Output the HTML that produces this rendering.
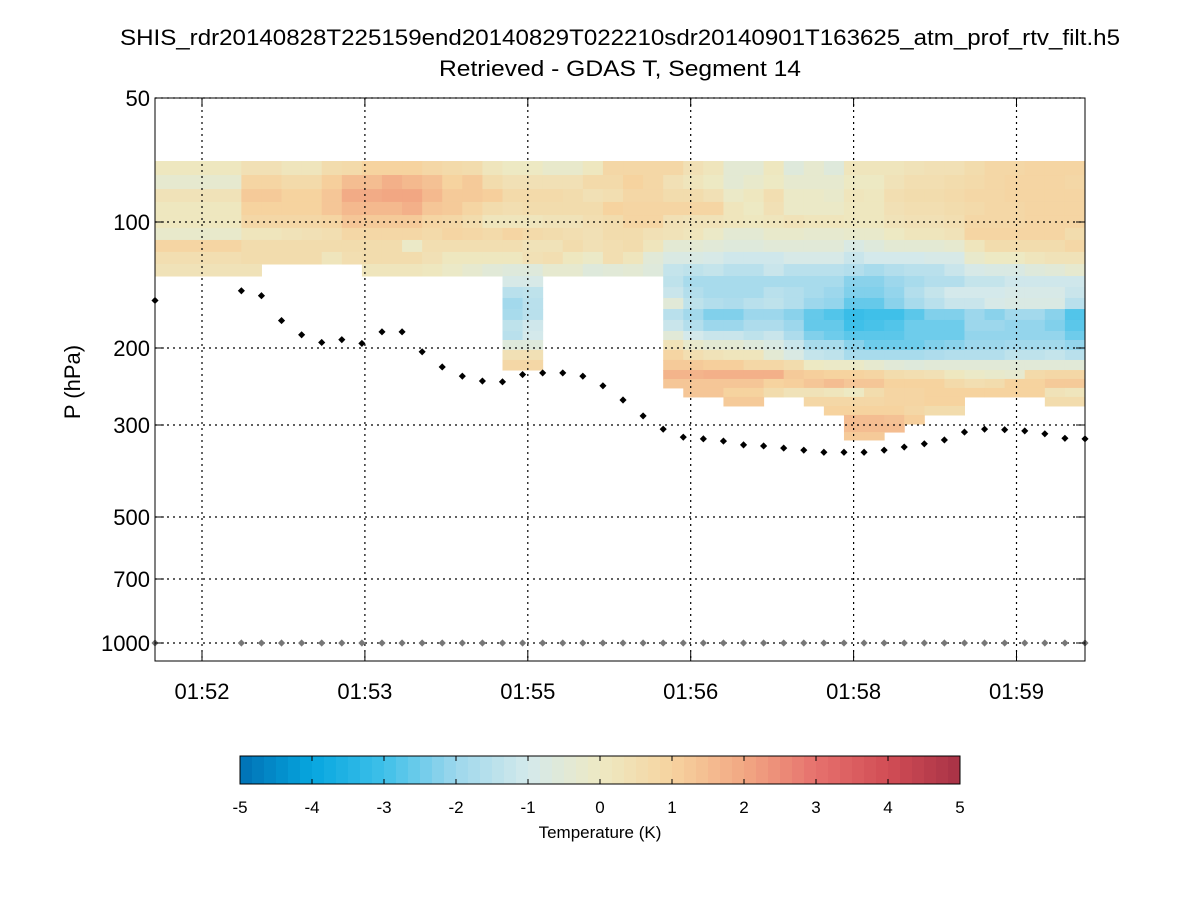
<!DOCTYPE html>
<html><head><meta charset="utf-8"><style>
body{margin:0;background:#fff;width:1200px;height:900px;overflow:hidden}
svg text{font-family:"Liberation Sans",sans-serif;fill:#000}
</style></head><body>
<svg id="chart" width="1200" height="900" xmlns="http://www.w3.org/2000/svg">
<rect width="1200" height="900" fill="#fff"/>
<text x="620" y="45" font-size="22" text-anchor="middle" textLength="1000" lengthAdjust="spacingAndGlyphs">SHIS_rdr20140828T225159end20140829T022210sdr20140901T163625_atm_prof_rtv_filt.h5</text>
<text x="620" y="76" font-size="22" text-anchor="middle" textLength="362" lengthAdjust="spacingAndGlyphs">Retrieved - GDAS T, Segment 14</text>
<text x="80" y="382" font-size="22" text-anchor="middle" transform="rotate(-90 80 382)">P (hPa)</text>
<g id="heat"></g><g id="grid"></g><g id="marks"></g><g id="axes"></g><g id="cbar"></g>
</svg>
<script>
const NS="http://www.w3.org/2000/svg";
// ---- data ----
const colEdges=[0,4.3,5.3,6.3,7.3,8.3,9.3,10.3,11.3,12.3,13.3,14.3,15.3,16.3,17.3,18.3,19.3,20.3,21.3,22.3,23.3,24.3,25.3,26.3,27.3,28.3,29.3,30.3,31.3,32.3,33.3,34.3,35.3,36.3,37.3,38.3,39.3,40.3,41.3,42.3,43.3,44.3,45.3,46.3];
const levelEdges=[71.1,76.9,83.2,89.4,96.2,103.3,110.4,117.9,126,134.6,143,151.9,161.4,171.4,182.1,191.4,202,213,224.6,235.4,246.8,258.8,271.4,284.6,298.4,312,326];
const tempRows=[
"0.1 0.4 0.4 0.2 0.2 0.6 0.7 1.0 1.0 1.0 0.8 0.7 0.6 0.2 0.0 0.0 -0.2 -0.2 0.1 0.8 0.8 0.8 0.8 0.4 0.2 -0.4 -0.4 0.1 -0.6 -0.3 -0.6 0.2 0.2 0.2 0.3 0.4 0.4 0.6 0.8 0.8 0.9 0.9 0.9",
"-0.3 0.9 0.9 0.7 0.7 1.1 1.5 1.5 1.8 1.6 1.4 1.0 1.2 0.6 0.4 0.4 0.4 0.4 0.7 0.7 1.0 0.8 0.4 0.2 0.0 -0.4 -0.2 0.0 -0.3 -0.3 -0.3 0.0 0.0 0.3 0.5 0.5 0.6 0.7 0.8 0.9 0.9 0.9 0.8",
"0.3 1.2 1.2 1.0 1.0 1.3 1.9 1.9 2.0 2.0 1.6 1.2 1.2 1.1 0.7 0.7 0.7 0.6 0.4 0.5 0.8 0.8 0.6 0.6 0.4 -0.1 0.1 0.5 -0.1 -0.1 -0.2 0.2 0.1 0.5 0.6 0.6 0.7 0.8 0.8 0.9 0.9 0.9 0.9",
"0.1 1.0 1.0 1.0 1.0 1.3 1.6 1.6 1.6 1.8 1.3 1.2 0.9 0.6 0.5 0.6 0.6 0.6 0.6 1.0 0.9 0.9 0.9 0.9 0.9 0.2 0.0 0.4 -0.1 -0.1 -0.1 0.1 0.1 0.4 0.5 0.5 0.6 0.7 0.8 0.8 0.9 0.9 0.9",
"0.1 0.8 0.8 0.8 0.8 0.9 1.3 1.2 1.2 1.2 0.9 0.8 0.6 0.2 0.2 0.2 0.3 0.3 0.5 0.6 0.9 0.9 0.4 0.3 0.3 0.2 0.1 0.2 0.3 0.2 0.2 0.1 0.1 0.3 0.4 0.4 0.5 0.8 0.8 0.8 0.9 0.9 0.9",
"-0.2 0.2 0.2 0.3 0.4 0.5 0.8 0.8 0.8 0.8 0.7 0.9 0.8 0.7 0.9 0.7 0.6 0.5 0.4 0.6 0.6 0.4 0.3 0.2 -0.1 -0.4 -0.4 -0.2 -0.2 -0.3 -0.3 -0.2 -0.2 0.0 0.2 0.2 0.3 0.9 0.9 0.9 0.9 0.9 0.6",
"0.9 0.6 0.6 0.6 0.6 0.6 0.6 0.6 0.6 -0.1 0.5 0.5 0.5 0.5 0.5 0.3 0.3 0.6 0.4 0.5 0.6 0.2 -0.4 -0.4 -0.5 -0.6 -0.6 -0.5 -0.5 -0.5 -0.5 -0.8 -0.6 -0.4 -0.4 -0.4 -0.3 0.2 0.6 0.6 0.6 0.6 0.8",
"0.5 0.6 0.6 0.6 0.6 0.2 0.5 0.6 0.6 0.6 0.4 0.1 0.1 0.1 0.1 0.4 0.5 0.1 -0.1 0.5 0.2 -0.5 -0.8 -0.8 -0.9 -1.1 -1.1 -1.1 -0.9 -0.9 -0.9 -1.2 -1.0 -1.0 -1.0 -0.9 -0.9 -0.2 0.0 0.0 0.2 0.3 0.3",
"0.3 0.3 n n n n n 0.2 0.2 0.2 0.1 -0.1 -0.3 -0.5 -0.6 -0.6 -0.3 -0.3 -0.6 -0.5 -0.4 -0.6 -1.3 -1.4 -1.3 -1.5 -1.5 -1.2 -1.5 -1.5 -1.5 -1.6 -1.8 -1.6 -1.5 -1.5 -1.2 -0.9 -0.8 -0.8 -0.6 -0.5 -0.3",
"n n n n n n n n n n n n n n -0.9 -0.9 n n n n n n -1.4 -1.8 -1.8 -1.8 -1.8 -1.8 -1.8 -1.8 -1.8 -2.2 -2.2 -2.0 -1.8 -1.6 -1.6 -1.3 -1.3 -1.1 -1.1 -1.1 -1.1",
"n n n n n n n n n n n n n n -1.5 -1.4 n n n n n n -1.2 -1.6 -1.8 -1.8 -1.8 -1.5 -1.6 -1.8 -2.0 -2.3 -2.3 -2.1 -1.6 -1.3 -1.0 -1.0 -1.0 -0.9 -0.9 -0.9 -1.2",
"n n n n n n n n n n n n n n -1.9 -1.5 n n n n n n -0.5 -1.4 -1.6 -1.7 -1.5 -1.4 -1.6 -2.0 -2.1 -2.6 -2.6 -2.2 -1.8 -1.5 -1.2 -1.2 -0.9 -0.8 -0.8 -0.8 -1.5",
"n n n n n n n n n n n n n n -1.8 -1.5 n n n n n n -1.5 -1.9 -2.3 -2.3 -2.0 -2.0 -2.2 -2.6 -2.8 -3.1 -3.0 -3.0 -2.7 -2.3 -2.3 -2.0 -2.2 -1.9 -1.9 -2.2 -2.8",
"n n n n n n n n n n n n n n -1.4 -1.1 n n n n n n -1.2 -1.6 -2.0 -2.0 -1.7 -1.7 -2.0 -2.6 -2.6 -3.0 -2.9 -2.8 -2.5 -2.5 -2.5 -2.0 -2.0 -2.1 -2.1 -2.3 -2.7",
"n n n n n n n n n n n n n n -1.5 -1.0 n n n n n n -0.5 -1.0 -1.2 -1.2 -1.4 -1.2 -1.7 -2.3 -2.5 -2.7 -2.7 -2.7 -2.5 -2.5 -2.5 -2.1 -2.1 -2.1 -2.1 -2.1 -2.5",
"n n n n n n n n n n n n n n -0.6 -0.6 n n n n n n 0.3 -0.2 -0.4 -0.4 -0.6 -0.8 -1.2 -1.8 -1.8 -2.2 -2.5 -2.5 -2.5 -2.3 -2.2 -2.0 -2.0 -1.9 -1.9 -1.9 -2.1",
"n n n n n n n n n n n n n n 0.4 0.4 n n n n n n 0.9 0.5 0.3 0.2 0.2 -0.4 -0.8 -1.3 -1.4 -1.8 -1.8 -1.8 -1.8 -1.7 -1.6 -1.6 -1.6 -1.4 -1.4 -1.3 -1.5",
"n n n n n n n n n n n n n n 0.8 0.8 n n n n n n 1.2 1.2 1.1 1.1 0.8 0.8 0.6 0.0 -0.1 -0.1 -0.3 -0.5 -0.6 -0.5 -0.5 -0.5 -0.5 -0.5 -0.5 -0.5 -0.5",
"n n n n n n n n n n n n n n n n n n n n n n 1.7 1.7 1.8 1.8 1.8 1.8 1.2 1.1 1.0 1.0 0.9 0.6 0.5 0.4 0.1 -0.1 -0.2 -0.3 0.7 0.8 0.8",
"n n n n n n n n n n n n n n n n n n n n n n 1.3 1.3 1.3 1.3 1.3 1.0 1.1 1.3 1.5 1.3 1.3 1.0 1.0 1.0 0.7 0.5 0.6 1.0 1.0 1.2 1.2",
"n n n n n n n n n n n n n n n n n n n n n n n 1.3 1.3 1.0 1.0 0.6 0.3 0.3 0.2 0.0 0.6 0.9 0.9 1.0 1.0 1.0 1.0 1.0 1.0 0.3 0.2",
"n n n n n n n n n n n n n n n n n n n n n n n n n 1.2 1.2 n n 0.8 0.8 0.8 0.8 0.9 0.9 1.0 1.0 n n n n 0.6 0.6",
"n n n n n n n n n n n n n n n n n n n n n n n n n n n n n n 1.0 1.0 1.0 1.0 0.8 0.6 0.6 n n n n n n",
"n n n n n n n n n n n n n n n n n n n n n n n n n n n n n n n 1.5 1.5 1.4 1.1 n n n n n n n n",
"n n n n n n n n n n n n n n n n n n n n n n n n n n n n n n n 1.5 1.5 1.5 n n n n n n n n n",
"n n n n n n n n n n n n n n n n n n n n n n n n n n n n n n n 1.2 1.2 n n n n n n n n n n"
];
const flightP=[154,146,150,172,186,194,191,195,183,183,204,221,232,238,239,230,228,228,232,244,263,286,307,321,324,328,335,337,341,345,349,349,349,345,339,333,326,312,307,308,310,315,323,324];
const surfaceP=1000;
const yTicks=[50,100,200,300,500,700,1000];
const xTickPos=[2.34,10.45,18.56,26.67,34.78,42.89];
const xTickLabels=["01:52","01:53","01:55","01:56","01:58","01:59"];
const cbTicks=[-5,-4,-3,-2,-1,0,1,2,3,4,5];
const cmap=['#0071b4','#06a6df','#3fc0e9','#9dd7ec','#d4e9eb','#ede9c3','#f6d39f','#f2a783','#e6716d','#d14d55','#a83246'];
// ---- scales ----
const PL=155,PR=1085,PT=98,PB=661;
const yTickPx=[98,222,348,425,517,579,643];
function y(p){const lp=Math.log(p);let i=0;while(i<yTicks.length-2&&lp>Math.log(yTicks[i+1]))i++;
 const a=Math.log(yTicks[i]),b=Math.log(yTicks[i+1]);return yTickPx[i]+(lp-a)/(b-a)*(yTickPx[i+1]-yTickPx[i]);}
const xMax=46.3;
function x(t){return PL+t/xMax*(PR-PL);}
function hex(c){return [1,3,5].map(i=>parseInt(c.substr(i,2),16));}
function color(v){v=Math.max(-5,Math.min(5,v));const f=v+5;const i=Math.min(9,Math.floor(f));const t=f-i;
 const a=hex(cmap[i]),b=hex(cmap[i+1]);return 'rgb('+a.map((c,k)=>Math.round(c+(b[k]-c)*t)).join(',')+')';}
function mk(tag,attrs,parent){const e=document.createElementNS(NS,tag);for(const k in attrs)e.setAttribute(k,attrs[k]);parent.appendChild(e);return e;}
const heat=document.getElementById('heat'),grid=document.getElementById('grid'),marks=document.getElementById('marks'),axes=document.getElementById('axes'),cbar=document.getElementById('cbar');
// heatmap
tempRows.forEach((row,j)=>{row.split(' ').forEach((s,i)=>{if(s==='n')return;const v=parseFloat(s);
 const x0=x(colEdges[i]),x1=x(colEdges[i+1]),y0=y(levelEdges[j]),y1=y(levelEdges[j+1]);
 const r=mk('rect',{x:x0,y:y0,width:x1-x0+0.5,height:y1-y0+0.5,fill:color(v)},heat);
 
 });});
// grid
yTicks.forEach((p,k)=>{const yy=y(p);
 const g=mk('line',{x1:PL,x2:PR,y1:yy,y2:yy,stroke:'#000','stroke-width':1.2,'stroke-dasharray':'2 4'},grid);
 
 
 const t1=mk('line',{x1:PL,x2:PL+9,y1:yy,y2:yy,stroke:'#000','stroke-width':1},axes);
 
 
 const t2=mk('line',{x1:PR-9,x2:PR,y1:yy,y2:yy,stroke:'#000','stroke-width':1},axes);
 
 
 const tx=mk('text',{x:PL-5,y:yy+8,'font-size':22,'text-anchor':'end'},axes);tx.textContent=p;
 
 });
xTickPos.forEach((t,k)=>{const xx=x(t);
 const g=mk('line',{x1:xx,x2:xx,y1:PT,y2:PB,stroke:'#000','stroke-width':1.2,'stroke-dasharray':'2 4'},grid);
 
 
 const t1=mk('line',{x1:xx,x2:xx,y1:PB-9,y2:PB,stroke:'#000','stroke-width':1},axes);
 
 
 const t2=mk('line',{x1:xx,x2:xx,y1:PT,y2:PT+9,stroke:'#000','stroke-width':1},axes);
 
 
 const tx=mk('text',{x:xx,y:PB+38,'font-size':22,'text-anchor':'middle'},axes);tx.textContent=xTickLabels[k];
 
 });
const box=mk('rect',{x:PL,y:PT,width:PR-PL,height:PB-PT,fill:'none',stroke:'#000','stroke-width':1},axes);


// markers
function dot(cx,cy,col){const d=mk('path',{d:`M${cx-3},${cy}L${cx},${cy-3}L${cx+3},${cy}L${cx},${cy+3}Z`,fill:col,stroke:col,'stroke-width':0.8},marks);return d;}
colEdges.forEach((t,i)=>{
 const d=dot(x(t),y(flightP[i]),'#000');
 
 
 const s=dot(x(t),y(surfaceP),'#777');
 
 });
// colorbar
const CB0=240,CB1=960,CBT=756,CBB=784,N=60;
for(let k=0;k<N;k++){const v=-5+(k+0.5)*10/N;
 const r=mk('rect',{x:CB0+k*(CB1-CB0)/N,y:CBT,width:(CB1-CB0)/N+0.5,height:CBB-CBT,fill:color(v)},cbar);
 
 }
const cbf=mk('rect',{x:CB0,y:CBT,width:CB1-CB0,height:CBB-CBT,fill:'none',stroke:'#000','stroke-width':1},cbar);


cbTicks.forEach(v=>{const xx=CB0+(v+5)/10*(CB1-CB0);
 const t1=mk('line',{x1:xx,x2:xx,y1:CBT,y2:CBT+5,stroke:'#000'},cbar);
 
 
 const t2=mk('line',{x1:xx,x2:xx,y1:CBB-5,y2:CBB,stroke:'#000'},cbar);
 
 
 const tx=mk('text',{x:xx,y:813,'font-size':17,'text-anchor':'middle'},cbar);tx.textContent=v;
 
 });
const cbt=mk('text',{x:600,y:838,'font-size':17,'text-anchor':'middle'},cbar);cbt.textContent='Temperature (K)';


</script>
</body></html>
